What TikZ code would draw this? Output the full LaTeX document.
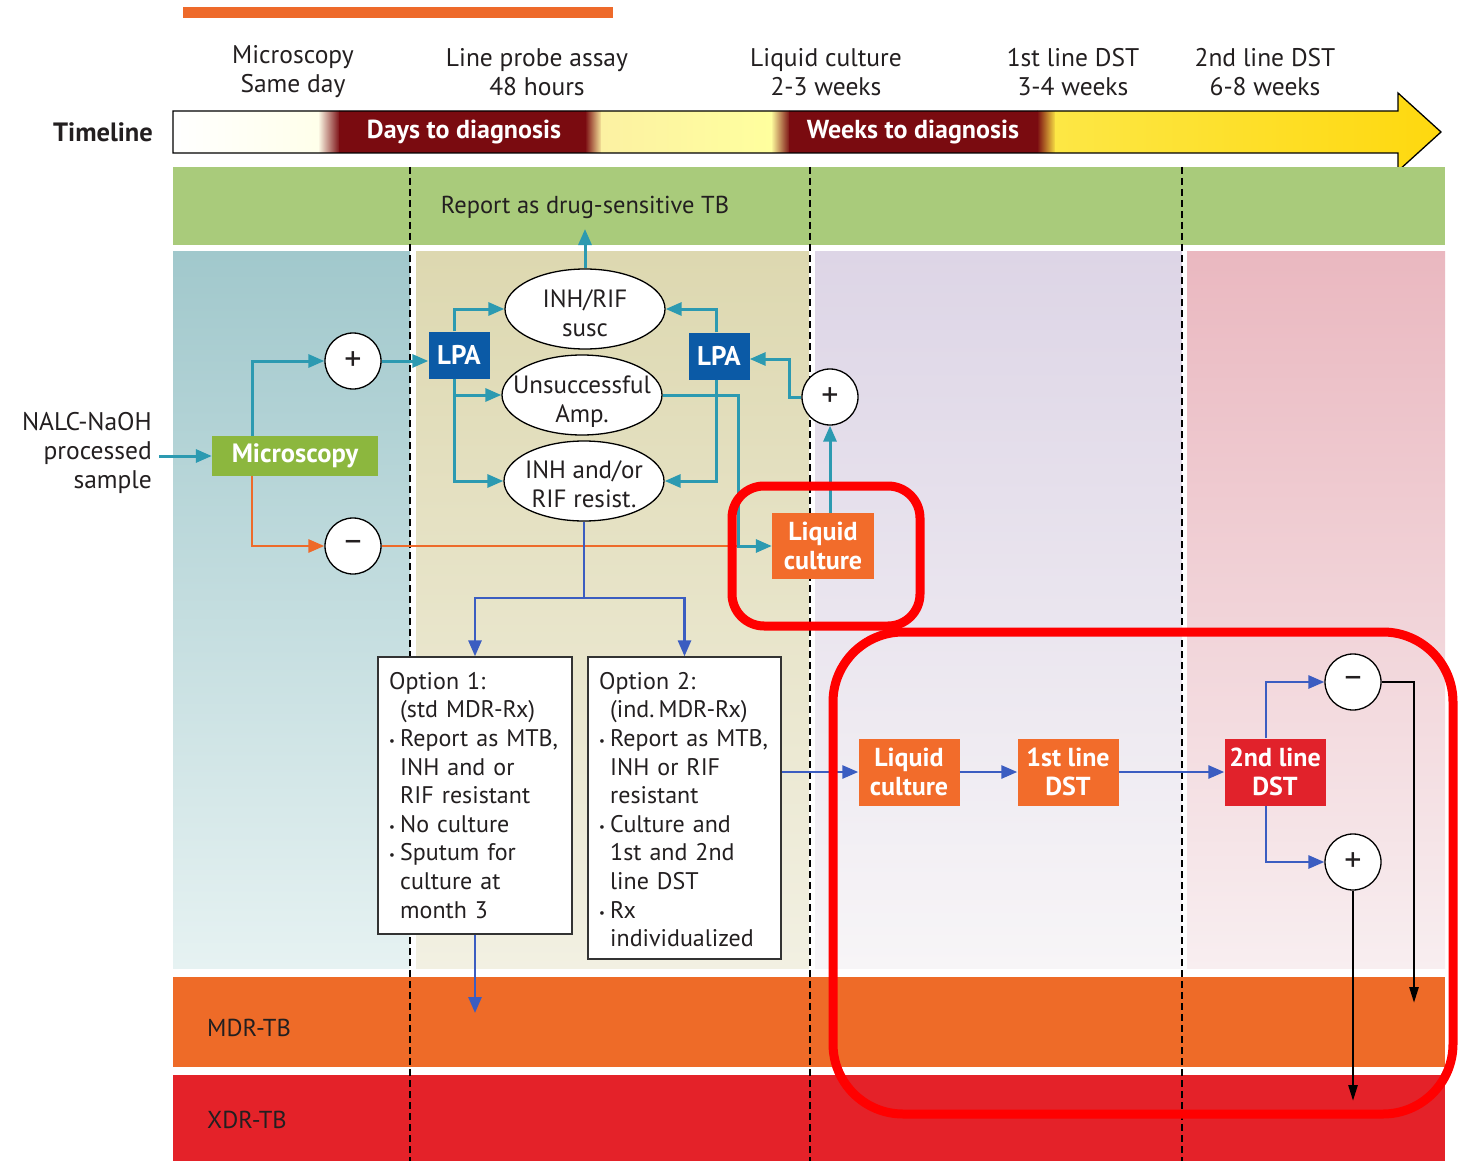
\documentclass[tikz,border=0pt]{standalone}
\usepackage{fontspec}
\setmainfont{PT Sans}
\usetikzlibrary{arrows.meta,shapes.geometric,calc}

\definecolor{tealc}{HTML}{2C9AB1}
\definecolor{bluec}{HTML}{3B5DC1}
\definecolor{orc}{HTML}{EE6A2A}
\definecolor{orbox}{HTML}{F26C2B}
\definecolor{redbox}{HTML}{E1222B}
\definecolor{micg}{HTML}{8CB73E}
\definecolor{lpab}{HTML}{0B5AA6}
\definecolor{maroonc}{HTML}{7A0B10}
\definecolor{paley}{HTML}{FCF1A2}
\definecolor{yelA}{HTML}{FDE745}
\definecolor{yelB}{HTML}{FED80E}
\definecolor{bandg}{HTML}{A9CB7B}
\definecolor{mdrc}{HTML}{EE6B28}
\definecolor{xdrc}{HTML}{E42229}
\definecolor{txt}{HTML}{231F20}
\definecolor{cOneT}{HTML}{A1C8CC}
\definecolor{cOneB}{HTML}{E6F2F2}
\definecolor{cTwoT}{HTML}{DDD8B0}
\definecolor{cTwoB}{HTML}{F2F0E2}
\definecolor{cThrT}{HTML}{DDD5E6}
\definecolor{cThrB}{HTML}{F7F5F7}
\definecolor{cFouT}{HTML}{EAB8C0}
\definecolor{cFouB}{HTML}{F8EEF0}
\definecolor{annot}{HTML}{FF0000}

\newcommand{\bul}{\makebox[11pt][l]{\raisebox{1pt}{\fontsize{13}{13}\selectfont\textbullet}}}
\newcommand{\ind}{\hspace*{11pt}}

\begin{document}
\begin{tikzpicture}[x=1pt,y=-1pt,
  every node/.style={inner sep=0pt,text=txt},
  lbl/.style={font=\fontsize{25.5}{29}\selectfont,align=center},
  whitebold/.style={font=\bfseries\fontsize{26}{28.5}\selectfont,text=white,align=center},
  procbox/.style={whitebold,fill=orbox,minimum width=102pt,minimum height=66pt},
  lpabox/.style={whitebold,font=\bfseries\fontsize{27}{28}\selectfont,fill=lpab,minimum width=61pt,minimum height=47pt},
  ell/.style={ellipse,draw=black,line width=1.3pt,fill=white,minimum width=160pt,
    minimum height=80pt,inner sep=0pt},
  elltext/.style={font=\fontsize{25}{29}\selectfont,align=center},
  sign/.style={circle,draw=black,line width=1.3pt,fill=white,minimum size=56pt,
    font=\fontsize{34}{34}\selectfont},
  optbox/.style={draw=black!80,line width=1.3pt,fill=white},
  opttext/.style={font=\fontsize{24}{28.6}\selectfont,align=left,text width=190pt,anchor=north west},
  bandtxt/.style={font=\fontsize{24.5}{26}\selectfont,anchor=west},
  tl/.style={tealc,line width=3pt},
  ta/.style={tl,-{Triangle[length=16pt,width=13pt]}},
  ol/.style={orc,line width=2.8pt},
  oa/.style={ol,-{Triangle[length=16pt,width=13pt]}},
  bl/.style={bluec,line width=2.8pt},
  ba/.style={bl,-{Triangle[length=16pt,width=13pt]}},
  ka/.style={black,line width=2.6pt,-{Triangle[length=16pt,width=9pt]}},
  divider/.style={black,line width=1.8pt,dash pattern=on 7pt off 4pt},
  annbox/.style={annot,line width=9pt}]

\useasboundingbox (0,0) rectangle (1459,1161);

% ---------- top rule ----------
\fill[orc] (183,7) rectangle (613,18);

% ---------- timeline arrow ----------
\begin{scope}
  \clip (173,111) -- (1398,111) -- (1398,93) -- (1441,132) -- (1398,171)
        -- (1398,153) -- (173,153) -- cycle;
  \shade[left color=white,right color=yellow!8] (170,90) rectangle (318,175);
  \shade[left color=yellow!8,right color=maroonc] (318,90) rectangle (340,175);
  \fill[maroonc] (339,90) rectangle (586,175);
  \shade[left color=maroonc,right color=paley] (585,90) rectangle (602,175);
  \shade[left color=paley,right color=yellow!38] (601,90) rectangle (772,175);
  \shade[left color=yellow!38,right color=maroonc] (771,90) rectangle (790,175);
  \fill[maroonc] (789,90) rectangle (1038,175);
  \shade[left color=maroonc,right color=yelA] (1037,90) rectangle (1056,175);
  \shade[left color=yelA,right color=yelB] (1055,90) rectangle (1445,175);
\end{scope}
\draw[line width=1.3pt,line join=miter]
  (173,111) -- (1398,111) -- (1398,93) -- (1441,132) -- (1398,171)
  -- (1398,153) -- (173,153) -- cycle;

\node[font=\bfseries\fontsize{26.5}{28}\selectfont] (tline) at (103,132) {Timeline};
\node[whitebold] (days) at (464,132) {Days to diagnosis};
\node[whitebold] (weeks) at (913,132) {Weeks to diagnosis};

\node[lbl] (h1) at (293,72) {Microscopy\\Same day};
\node[lbl] (h2) at (537,72) {Line probe assay\\48 hours};
\node[lbl] (h3) at (826,72) {Liquid culture\\2-3 weeks};
\node[lbl] (h4) at (1073,72) {1st line DST\\3-4 weeks};
\node[lbl] (h5) at (1265,72) {2nd line DST\\6-8 weeks};

% ---------- background bands ----------
\fill[bandg] (173,167) rectangle (1445,245);
\shade[top color=cOneT,bottom color=cOneB] (173,251) rectangle (410,968);
\shade[top color=cTwoT,bottom color=cTwoB] (416,251) rectangle (809,968);
\shade[top color=cThrT,bottom color=cThrB] (815,251) rectangle (1182,968);
\shade[top color=cFouT,bottom color=cFouB] (1187,251) rectangle (1445,968);
\fill[mdrc] (173,977) rectangle (1445,1067);
\fill[xdrc] (173,1075) rectangle (1445,1161);

\node[bandtxt] (mdr) at (207,1028) {MDR-TB};
\node[bandtxt] (xdr) at (207,1120) {XDR-TB};

\draw[divider] (410,167) -- (410,1161);
\draw[divider] (810,167) -- (810,1161);
\draw[divider] (1182,167) -- (1182,1161);

% ---------- nodes ----------
\node[lbl,align=right,anchor=east] (nalc) at (152,453) {NALC-NaOH\\processed\\sample};
\node[whitebold,font=\bfseries\fontsize{26.5}{28}\selectfont,fill=micg,minimum width=166pt,minimum height=40pt] (mic) at (295,456) {Microscopy};

\node[sign] (pL) at (353,361) {+};
\node[sign] (mL) at (353,546) {–};

\node[lpabox] (lpaL) at (459,355) {LPA};
\node[lpabox] (lpaR) at (719,356) {LPA};

\node[ell] (susc) at (585,309) {};
\node[elltext] (susct) at (585,313) {INH/RIF\\susc};
\node[ell] (unsuc) at (582,395) {};
\node[elltext] (unsuct) at (582,402) {Unsuccessful\\Amp.};
\node[ell] (res) at (584,481) {};
\node[elltext] (rest) at (584,484) {INH and/or\\RIF resist.};

\node[lbl,font=\fontsize{24.5}{28}\selectfont] (rep) at (585,207) {Report as drug-sensitive TB};
\coordinate (repin) at (585,229);

\node[sign] (pR) at (830,397) {+};
\node[procbox] (lc1) at (823,546) {Liquid\\culture};

\node[optbox,minimum width=194pt,minimum height=277pt] (op1) at (475,795.5) {};
\node[opttext] (op1t) at (389,672) {Option 1:\\
\ind(std MDR-Rx)\\
\bul Report as MTB,\\
\ind INH and or\\
\ind RIF resistant\\
\bul No culture\\
\bul Sputum for\\
\ind culture at\\
\ind month 3};

\node[optbox,minimum width=193pt,minimum height=302pt] (op2) at (684.5,808) {};
\node[opttext] (op2t) at (599,672) {Option 2:\\
\ind(ind.\,MDR-Rx)\\
\bul Report as MTB,\\
\ind INH or RIF\\
\ind resistant\\
\bul Culture and\\
\ind 1st and 2nd\\
\ind line DST\\
\bul Rx\\
\ind individualized};

\node[procbox,minimum width=101pt,minimum height=67pt] (lc2) at (909,772) {Liquid\\culture};
\node[procbox,minimum width=101pt,minimum height=67pt] (dst1) at (1068,772) {1st line\\DST};
\node[procbox,fill=redbox,minimum width=101pt,minimum height=67pt] (dst2) at (1275,772) {2nd line\\DST};

\node[sign] (mR2) at (1353,682) {–};
\node[sign] (pR2) at (1353,862) {+};

% ---------- connectors ----------
\draw[ta,shorten <=7pt] (mic.west -| nalc.east) -- (mic.west);
\draw[ta] ([xshift=-43pt]mic.north) |- (pL.west);
\draw[oa] ([xshift=-43pt]mic.south) |- (mL.west);
\draw[ta] (pL.east) -- (pL.east -| lpaL.west);

\draw[ta] ([xshift=-5pt]lpaL.north) |- (susc.west);
\draw[ta] ([xshift=-5pt]lpaL.south) |- (res.west);
\draw[ta] ([xshift=-5pt]lpaL.south) |- (unsuc.west);
\draw[ta] ([xshift=-3pt]lpaR.north) |- (susc.east);
\draw[ta] ([xshift=-3pt]lpaR.south) |- (res.east);

\coordinate (rbend) at (789,359);
\draw[ta] (pR.west) -| (rbend) -- (lpaR.east |- rbend);
\draw[ta] (lc1.north -| pR) -- (pR.south);
\draw[ta] (susc.north) -- (repin);

\coordinate (ujoin) at (738,546);
\draw[ol] (mL.east) -- (ujoin);
\draw[ta] (unsuc.east) -| (ujoin) -- (lc1.west);

\coordinate (split) at (584,598);
\draw[bl] (res.south) -- (split);
\draw[ba] (split) -| (op1.north);
\draw[ba] (split) -| (op2.north);
\coordinate (mdrin) at (475,1013);
\draw[ba] (op1.south) -- (mdrin);

\draw[ba] (op2.east |- lc2.west) -- (lc2.west);
\draw[ba] (lc2.east) -- (dst1.west);
\draw[ba] (dst1.east) -- (dst2.west);
\draw[ba] ([xshift=-9pt]dst2.north) |- (mR2.west);
\draw[ba] ([xshift=-9pt]dst2.south) |- (pR2.west);

\coordinate (mdrR) at (1414,1003);
\draw[ka] (mR2.east) -| (mdrR);
\coordinate (xdrR) at (1353,1101);
\draw[ka] (pR2.south) -- (xdrR);

% ---------- highlight frames ----------
\draw[annbox,rounded corners=32pt] (732,486) rectangle (920,626);
\draw[annbox,rounded corners=70pt] (833,632) rectangle (1453,1114);

\end{tikzpicture}
\end{document}
